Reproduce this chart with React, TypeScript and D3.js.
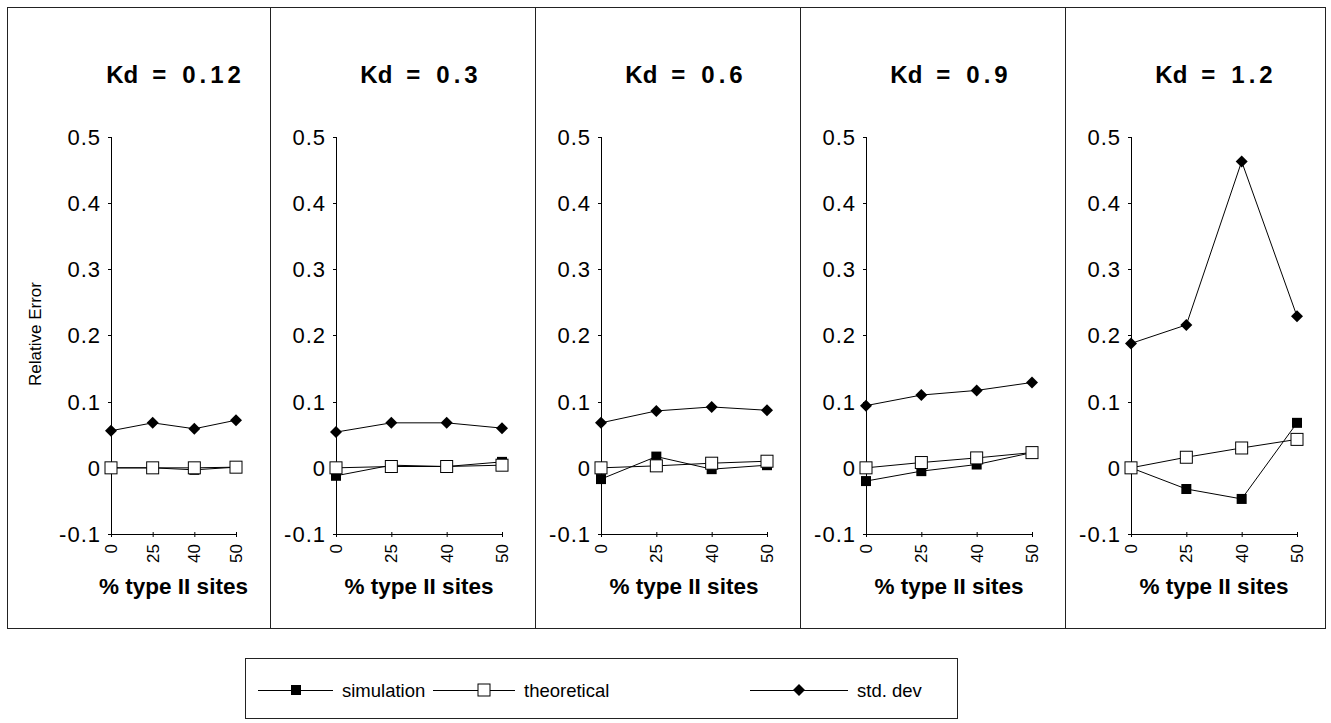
import * as d3 from "d3";
import React, { useRef, useEffect } from "react";

const width = 1331;
const height = 723;

const categories = ["0", "25", "40", "50"];
const kdValues = ["0.12", "0.3", "0.6", "0.9", "1.2"];
const yTicks = [-0.1, 0, 0.1, 0.2, 0.3, 0.4, 0.5];
const yTickLabels = ["-0.1", "0", "0.1", "0.2", "0.3", "0.4", "0.5"];

// one row per panel, values at 0, 25, 40, 50 % type II sites
const simulation = [
  [0, 0, -0.003, 0.001],
  [-0.012, 0.004, 0.002, 0.009],
  [-0.017, 0.017, -0.002, 0.004],
  [-0.02, -0.005, 0.005, 0.023],
  [0, -0.032, -0.047, 0.068],
];
const theoretical = [
  [0, 0, 0, 0.001],
  [0, 0.002, 0.002, 0.004],
  [0, 0.003, 0.007, 0.01],
  [0, 0.008, 0.015, 0.023],
  [0, 0.016, 0.03, 0.043],
];
const stdDev = [
  [0.056, 0.068, 0.059, 0.072],
  [0.054, 0.068, 0.068, 0.06],
  [0.068, 0.086, 0.092, 0.087],
  [0.094, 0.11, 0.117, 0.129],
  [0.188, 0.216, 0.463, 0.229],
];
const legendLabels = ["simulation", "theoretical", "std. dev"];

const panelEdges = [7, 270, 535, 800, 1065, 1325];
const top = 7;
const bottom = 628;
const font = "'Liberation Sans', Arial, sans-serif";
const narrow = "'Liberation Sans Narrow', 'Liberation Sans', Arial, sans-serif";

// legend swatch geometry: line start, line end, marker x
const legendSwatch = [[258, 333, 296], [433, 515, 484], [750, 848, 799]];

function drawMarker(g, kind, x, y) {
  if (kind === "simulation") {
    g.append("rect").attr("x", x - 5).attr("y", y - 5).attr("width", 10).attr("height", 10)
      .attr("fill", "#000");
  } else if (kind === "theoretical") {
    g.append("rect").attr("x", x - 6).attr("y", y - 6).attr("width", 12).attr("height", 12)
      .attr("fill", "#fff").attr("stroke", "#000").attr("stroke-width", 1);
  } else {
    g.append("path").attr("d", `M${x},${y - 6}L${x + 6},${y}L${x},${y + 6}L${x - 6},${y}Z`)
      .attr("fill", "#000");
  }
}

export default function App() {
  const ref = useRef(null);

  useEffect(() => {
    const svg = d3.select(ref.current);
    svg.selectAll("*").remove();
    svg.append("rect").attr("width", width).attr("height", height).attr("fill", "#fff");

    const y = d3.scaleLinear().domain([-0.1, 0.5]).range([534, 137]);

    kdValues.forEach((kd, i) => {
      const left = panelEdges[i];
      const right = panelEdges[i + 1];
      const g = svg.append("g");

      g.append("rect")
        .attr("x", left + 0.5).attr("y", top + 0.5)
        .attr("width", right - left).attr("height", bottom - top)
        .attr("fill", "none").attr("stroke", "#222").attr("stroke-width", 1);

      const x0 = i === 0 ? 111 : left + 66;
      const x1 = i === 0 ? 236 : left + 232;
      const x = d3.scalePoint().domain(categories).range([x0, x1]);

      // title  "Kd = value"
      const t = g.append("text")
        .attr("x", (x0 + x1) / 2 + 2).attr("y", 83)
        .attr("text-anchor", "middle")
        .attr("font-family", font).attr("font-weight", "bold").attr("font-size", 24);
      t.append("tspan").text("Kd");
      t.append("tspan").attr("dx", 14).text("=");
      t.append("tspan").attr("dx", 16).attr("letter-spacing", 4).text(kd);

      // y axis
      g.append("line").attr("x1", x0 + 0.5).attr("x2", x0 + 0.5)
        .attr("y1", y(0.5)).attr("y2", y(-0.1)).attr("stroke", "#000");
      yTicks.forEach((tv, k) => {
        g.append("line").attr("x1", x0 - 3).attr("x2", x0 + 1)
          .attr("y1", Math.round(y(tv)) + 0.5).attr("y2", Math.round(y(tv)) + 0.5).attr("stroke", "#000");
        g.append("text")
          .attr("x", x0 - 10).attr("y", y(tv)).attr("dy", "0.36em")
          .attr("text-anchor", "end")
          .attr("font-family", font).attr("font-size", 22).attr("letter-spacing", 1)
          .text(yTickLabels[k]);
      });

      // x axis
      g.append("line").attr("x1", x0).attr("x2", x1)
        .attr("y1", Math.round(y(-0.1)) + 0.5).attr("y2", Math.round(y(-0.1)) + 0.5).attr("stroke", "#000");
      categories.forEach((c) => {
        g.append("line").attr("x1", x(c) + 0.5).attr("x2", x(c) + 0.5)
          .attr("y1", y(-0.1) - 2).attr("y2", y(-0.1) + 3).attr("stroke", "#000");
        g.append("text")
          .attr("transform", `translate(${x(c)},${y(-0.1) + 10}) rotate(-90)`)
          .attr("dy", "0.36em")
          .attr("text-anchor", "end")
          .attr("font-family", narrow)
          .attr("font-size", 17)
          .text(c);
      });

      g.append("text")
        .attr("x", (x0 + x1) / 2).attr("y", 594)
        .attr("text-anchor", "middle")
        .attr("font-family", font).attr("font-weight", "bold").attr("font-size", 22.5)
        .text("% type II sites");

      if (i === 0) {
        g.append("text")
          .attr("transform", `translate(41,334) rotate(-90)`)
          .attr("text-anchor", "middle")
          .attr("font-family", narrow)
          .attr("font-size", 17)
          .text("Relative Error");
      }

      const line = d3.line().x((d, k) => x(categories[k])).y((d) => y(d));
      const series = [
        ["simulation", simulation[i]],
        ["theoretical", theoretical[i]],
        ["std", stdDev[i]],
      ];
      series.forEach(([kind, vals]) => {
        g.append("path").attr("d", line(vals)).attr("fill", "none")
          .attr("stroke", "#000").attr("stroke-width", 1);
        vals.forEach((v, k) => drawMarker(g, kind, x(categories[k]), y(v)));
      });
    });

    // legend
    const lg = svg.append("g");
    lg.append("rect").attr("x", 245.5).attr("y", 658.5).attr("width", 712).attr("height", 60)
      .attr("fill", "none").attr("stroke", "#222");
    const kinds = ["simulation", "theoretical", "std"];
    legendLabels.forEach((lab, k) => {
      const [lx0, lx1, mx] = legendSwatch[k];
      lg.append("line").attr("x1", lx0).attr("x2", lx1)
        .attr("y1", 690.5).attr("y2", 690.5).attr("stroke", "#000");
      drawMarker(lg, kinds[k], mx, 690);
      lg.append("text").attr("x", lx1 + 9).attr("y", 690).attr("dy", "0.36em")
        .attr("font-family", font).attr("font-size", 18.5)
        .text(lab);
    });
  }, []);

  return (
    <svg ref={ref} width={width} height={height}
      style={{ position: "absolute", left: 0, top: 0 }} />
  );
}
